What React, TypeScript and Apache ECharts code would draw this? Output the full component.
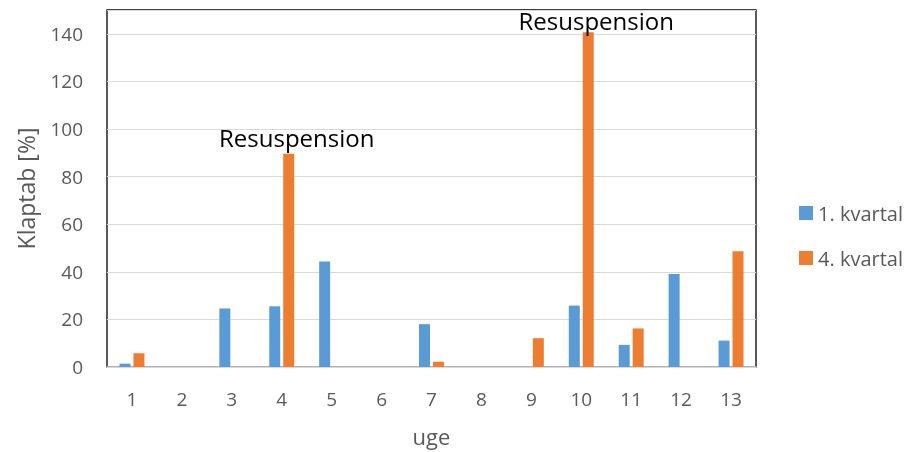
import React, { useEffect, useRef } from "react";
import * as echarts from "echarts";

const weeks = ["1", "2", "3", "4", "5", "6", "7", "8", "9", "10", "11", "12", "13"];
const q1Values = [1.4, 0, 24.6, 25.5, 44.3, 0, 18, 0, 0, 25.8, 9.3, 39.1, 11.1];
const q4Values = [5.8, 0, 0, 89.6, 0, 0, 2.2, 0, 12.1, 140.6, 16.2, 0, 48.6];
const seriesNames = ["1. kvartal", "4. kvartal"];
const annotationWeeks = ["4", "10"];
const annotationLevels = [96.5, 145.4];
const annotationTexts = ["Resuspension", "Resuspension"];

const FONT = "Open Sans";

export default function App() {
  const ref = useRef<HTMLDivElement>(null);
  useEffect(() => {
    if (!ref.current) return;
    const chart = echarts.init(ref.current, null, { renderer: "svg" });
    chart.setOption({
      animation: false,
      textStyle: { fontFamily: FONT },
      grid: {
        left: 107,
        top: 10,
        right: 154,
        bottom: 83,
        show: true,
        borderColor: "#000",
        borderWidth: 1.3,
        containLabel: false,
      },
      legend: {
        orient: "vertical",
        left: 799,
        top: 203,
        padding: 0,
        itemWidth: 14,
        itemHeight: 14,
        itemGap: 25,
        icon: "rect",
        textStyle: { color: "#595959", fontSize: 20, fontFamily: FONT },
        data: seriesNames,
      },
      xAxis: {
        type: "category",
        data: weeks,
        name: "uge",
        nameLocation: "middle",
        nameGap: 58,
        nameTextStyle: { color: "#595959", fontSize: 22, fontFamily: FONT },
        axisLine: { show: true, lineStyle: { color: "#d9d9d9", width: 1.5 } },
        axisTick: { show: false },
        axisLabel: { color: "#595959", fontSize: 19, margin: 22, fontFamily: FONT },
      },
      yAxis: {
        type: "value",
        min: 0,
        max: 150,
        interval: 20,
        name: "Klaptab [%]",
        nameLocation: "middle",
        nameGap: 70,
        nameRotate: 90,
        nameTextStyle: { color: "#595959", fontSize: 23, fontFamily: FONT },
        axisLine: { show: false },
        axisTick: { show: false },
        splitLine: { lineStyle: { color: "#d9d9d9", width: 1 } },
        axisLabel: { color: "#595959", fontSize: 19, margin: 24, showMaxLabel: false, fontFamily: FONT },
      },
      series: [
        {
          name: seriesNames[0],
          type: "bar",
          data: q1Values,
          barCategoryGap: "50%",
          barGap: "27%",
          itemStyle: { color: "#5B9BD5" },
        },
        {
          name: seriesNames[1],
          type: "bar",
          data: q4Values,
          barCategoryGap: "50%",
          barGap: "27%",
          itemStyle: { color: "#ED7D31" },
          markPoint: {
            symbol: "circle",
            symbolSize: 1,
            itemStyle: { color: "rgba(0,0,0,0)" },
            label: {
              show: true,
              position: "inside",
              offset: [8, 0],
              color: "#000",
              fontSize: 24,
              fontFamily: FONT,
              formatter: (p: any) => p.name,
            },
            data: annotationWeeks.map((w, i) => ({
              name: annotationTexts[i],
              coord: [w, annotationLevels[i]],
            })),
          },
        },
      ],
    });
    return () => chart.dispose();
  }, []);
  return (
    <div
      ref={ref}
      style={{ position: "fixed", left: 0, top: 0, width: 910, height: 452 }}
    />
  );
}
